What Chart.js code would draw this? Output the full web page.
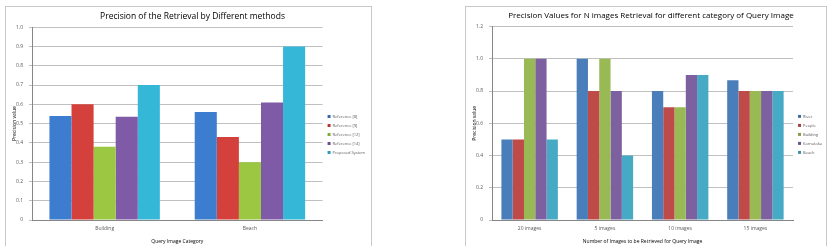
<!DOCTYPE html>
<html>
<head>
<meta charset="utf-8">
<script src="https://cdn.jsdelivr.net/npm/chart.js@4"></script>
<style>
  html, body { margin: 0; padding: 0; background: #fff; overflow: hidden; }
  .box { position: absolute; border: 1px solid #c8c8c8; background: #fff; }
  #box1 { left: 5px; top: 6px; width: 365px; height: 250px; }
  #box2 { left: 465px; top: 6px; width: 360px; height: 250px; }
  canvas { display: block; }
</style>
</head>
<body>
<div class="box" id="box1"><canvas id="chart1" width="365" height="240"></canvas></div>
<div class="box" id="box2"><canvas id="chart2" width="360" height="240"></canvas></div>
<script>
// chart 1 data
const methodCats = ['Building', 'Beach'];
const methodNames = ['Reference [8]', 'Reference [9]', 'Reference [12]', 'Reference [14]', 'Proposed System'];
const ref8 = [0.54, 0.56];
const ref9 = [0.60, 0.43];
const ref12 = [0.38, 0.30];
const ref14 = [0.535, 0.61];
const proposed = [0.70, 0.90];
const methodColors = ['#3d7dcf', '#d4403b', '#9cc743', '#7f5aa7', '#35b7d8'];

// chart 2 data
const nCats = ['20 images', '5 images', '10 images', '15 images'];
const classNames = ['River', 'People', 'Building', 'Karnataka', 'Beach'];
const river = [0.5, 1.0, 0.8, 0.867];
const people = [0.5, 0.8, 0.7, 0.8];
const building = [1.0, 1.0, 0.7, 0.8];
const karnataka = [1.0, 0.8, 0.9, 0.8];
const beach = [0.5, 0.4, 0.9, 0.8];
const classColors = ['#4a7ebb', '#be4b48', '#98b954', '#7d60a0', '#46aac5'];

function shade(hex, f) {
  const n = parseInt(hex.slice(1), 16);
  let r = (n >> 16) & 255, g = (n >> 8) & 255, b = n & 255;
  r = Math.round(r * f); g = Math.round(g * f); b = Math.round(b * f);
  return 'rgb(' + Math.min(r,255) + ',' + Math.min(g,255) + ',' + Math.min(b,255) + ')';
}

function barFill(color) {
  return function (ctx) {
    const el = ctx.element;
    const c = ctx.chart.ctx;
    if (!el || !el.width || isNaN(el.x)) return color;
    const x0 = el.x - el.width / 2;
    const g = c.createLinearGradient(x0, 0, x0 + el.width, 0);
    g.addColorStop(0, shade(color, 0.9));
    g.addColorStop(0.5, color);
    g.addColorStop(1, shade(color, 0.85));
    return g;
  };
}

const tickFont = { family: 'Open Sans', size: 5 };
const grey = '#595959';

function makeChart(id, cats, names, series, colors, opts) {
  new Chart(document.getElementById(id), {
    type: 'bar',
    data: {
      labels: cats,
      datasets: series.map((s, i) => ({
        label: names[i],
        data: s,
        backgroundColor: barFill(colors[i]),
        borderWidth: 0,
        categoryPercentage: opts.catPct,
        barPercentage: 1.0
      }))
    },
    options: {
      responsive: false,
      animation: false,
      devicePixelRatio: 1,
      layout: { padding: opts.padding },
      plugins: {
        title: {
          display: true,
          text: opts.title,
          color: '#000',
          font: { family: 'Open Sans', size: opts.titleSize, weight: 'normal' },
          padding: { top: 2, bottom: opts.titleGap }
        },
        legend: {
          position: 'right',
          title: { display: true, text: '', font: { size: 4 }, padding: { top: 10, bottom: 0 } },
          labels: {
            boxWidth: 3,
            boxHeight: 3,
            padding: 5,
            color: grey,
            font: { family: 'Open Sans', size: 4 }
          }
        },
        tooltip: { enabled: false }
      },
      scales: {
        x: {
          grid: { display: false, drawTicks: false },
          border: { color: '#868686' },
          ticks: { color: grey, font: tickFont, padding: 6 },
          title: { display: true, text: opts.xTitle, color: '#000', font: tickFont, padding: { top: 1, bottom: 0 } }
        },
        y: {
          min: 0,
          max: opts.yMax,
          grid: { color: '#c0c0c0', drawTicks: true, tickLength: 3 },
          border: { color: '#868686' },
          ticks: { stepSize: opts.step, color: grey, font: tickFont, padding: 6 },
          title: { display: true, text: 'Precision value', color: '#000', font: tickFont, padding: 2 },
          afterFit: function (s) { s.width = opts.yWidth; }
        }
      }
    }
  });
}

makeChart('chart1', methodCats, methodNames, [ref8, ref9, ref12, ref14, proposed], methodColors, {
  title: 'Precision of the Retrieval by Different methods',
  xTitle: 'Query Image Category',
  yMax: 1, step: 0.1, catPct: 0.76,
  titleSize: 8.5, titleGap: 6,
  padding: { left: 4, right: -4, top: 2, bottom: 2 },
  yWidth: 22
});

makeChart('chart2', nCats, classNames, [river, people, building, karnataka, beach], classColors, {
  title: 'Precision Values for N images Retrieval for different category of Query Image',
  xTitle: 'Number of Images to be Retrieved for Query Image',
  yMax: 1.2, step: 0.2, catPct: 0.75,
  titleSize: 8, titleGap: 6,
  padding: { left: 4, right: -6, top: 2, bottom: 2 },
  yWidth: 22
});
</script>
</body>
</html>
